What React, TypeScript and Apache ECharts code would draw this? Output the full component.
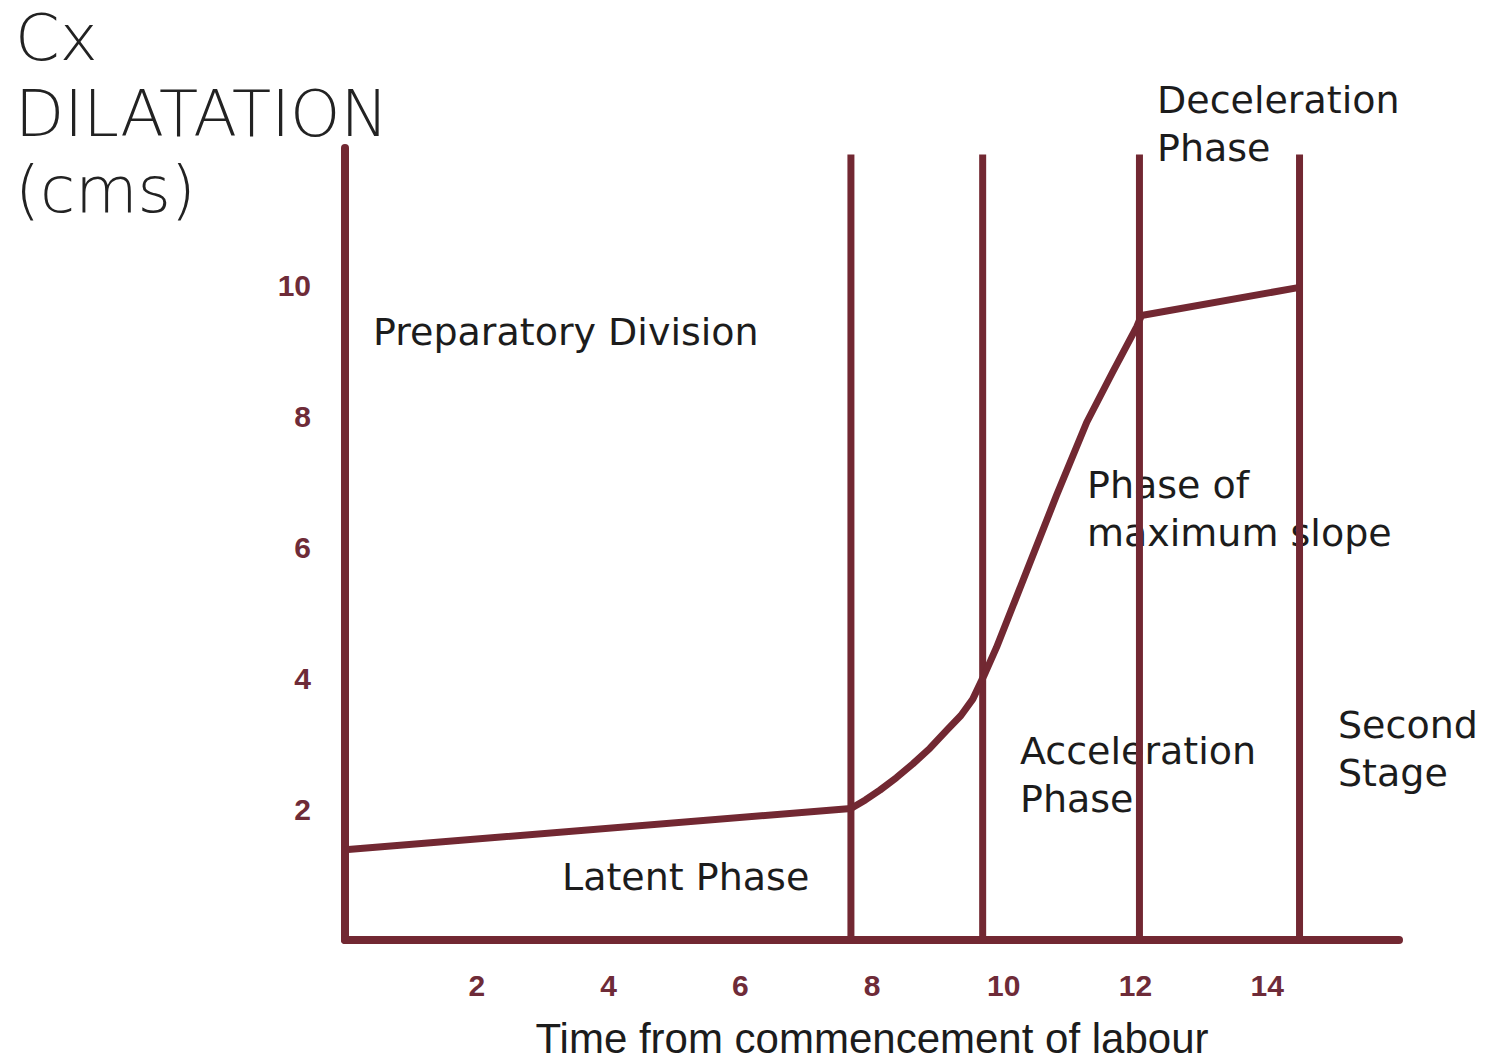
import React, { useEffect, useRef } from "react";
import * as echarts from "echarts";

// ---- data ----
const xTickLabels = [2, 4, 6, 8, 10, 12, 14];
const yTickLabels = [2, 4, 6, 8, 10];
const curveX = [0, 7.68, 7.9, 8.12, 8.37, 8.62, 8.88, 9.14, 9.35, 9.53, 9.7, 9.89, 10.35, 10.8, 11.26, 11.65, 12.02, 12.09, 14.49];
const curveY = [1.38, 2.01, 2.14, 2.29, 2.48, 2.69, 2.93, 3.21, 3.43, 3.68, 4.04, 4.47, 5.64, 6.79, 7.91, 8.67, 9.37, 9.54, 9.97];
const phaseBoundaries = [7.68, 9.68, 12.06, 14.49];
const boundaryTop = 12;

const xAxisTitle = "Time from commencement of labour";
const yAxisTitle = "Cx\nDILATATION\n(cms)";
const annotationTexts = [
  "Preparatory Division",
  "Latent Phase",
  "Acceleration\nPhase",
  "Phase of\nmaximum slope",
  "Deceleration\nPhase",
  "Second\nStage",
];
// pixel anchors (left, top) of annotation texts
const annotationLeft = [373, 562, 1020, 1087, 1157, 1338];
const annotationTop = [308, 853, 727, 461, 76, 701];

const MAROON = "#722832";
const LABEL = "#6e2b38";
const TEXT = "#1c1c1c";

export default function App() {
  const ref = useRef<HTMLDivElement>(null);
  useEffect(() => {
    if (!ref.current) return;
    const chart = echarts.init(ref.current, null, { renderer: "svg" });

    const boundarySeries = phaseBoundaries.map((bx, i) => ({
      type: "line",
      name: "boundary" + i,
      data: [
        [bx, 0],
        [bx, boundaryTop],
      ],
      symbol: "none",
      lineStyle: { color: MAROON, width: 7, cap: "butt" },
      silent: true,
      z: 3,
    }));

    chart.setOption({
      animation: false,
      backgroundColor: "#ffffff",
      grid: { left: 345, right: 92, top: 148, bottom: 120, containLabel: false },
      xAxis: {
        type: "value",
        min: 0,
        max: 16,
        interval: 2,
        name: xAxisTitle,
        nameLocation: "middle",
        nameGap: 77,
        nameTextStyle: { fontFamily: "Liberation Sans", fontSize: 42, color: TEXT },
        axisLine: { show: true, lineStyle: { color: MAROON, width: 8 } },
        axisTick: { show: false },
        splitLine: { show: false },
        axisLabel: {
          margin: 30,
          fontFamily: "Liberation Sans",
          fontWeight: "bold",
          fontSize: 30,
          color: LABEL,
          formatter: (v: number) => (xTickLabels.includes(v) ? String(v) : ""),
        },
      },
      yAxis: {
        type: "value",
        min: 0,
        max: 12.1,
        interval: 2,
        axisLine: { show: true, lineStyle: { color: MAROON, width: 8 } },
        axisTick: { show: false },
        splitLine: { show: false },
        axisLabel: {
          margin: 34,
          fontFamily: "Liberation Sans",
          fontWeight: "bold",
          fontSize: 30,
          color: LABEL,
          formatter: (v: number) => (yTickLabels.includes(v) ? String(v) : ""),
        },
      },
      graphic: [
        {
          type: "text",
          left: 15,
          top: 0,
          z: 0,
          style: {
            text: yAxisTitle,
            fontFamily: "DejaVu Sans",
            fontWeight: 200,
            fontSize: 64,
            lineHeight: 76,
            fill: "#222222",
          },
        },
        ...annotationTexts.map((t, i) => ({
          type: "text",
          left: annotationLeft[i],
          top: annotationTop[i],
          z: 0,
          style: {
            text: t,
            fontFamily: "DejaVu Sans",
            fontSize: 38,
            lineHeight: 48,
            fill: TEXT,
          },
        })),
      ],
      series: [
        {
          type: "line",
          name: "Cervical dilatation",
          data: curveX.map((x, i) => [x, curveY[i]]),
          symbol: "none",
          smooth: false,
          lineStyle: { color: MAROON, width: 7, join: "round" },
          z: 4,
        },
        ...boundarySeries,
      ],
    });
    return () => chart.dispose();
  }, []);

  return (
    <div
      ref={ref}
      style={{ position: "absolute", left: 0, top: 0, width: 1491, height: 1064, background: "#fff" }}
    />
  );
}
